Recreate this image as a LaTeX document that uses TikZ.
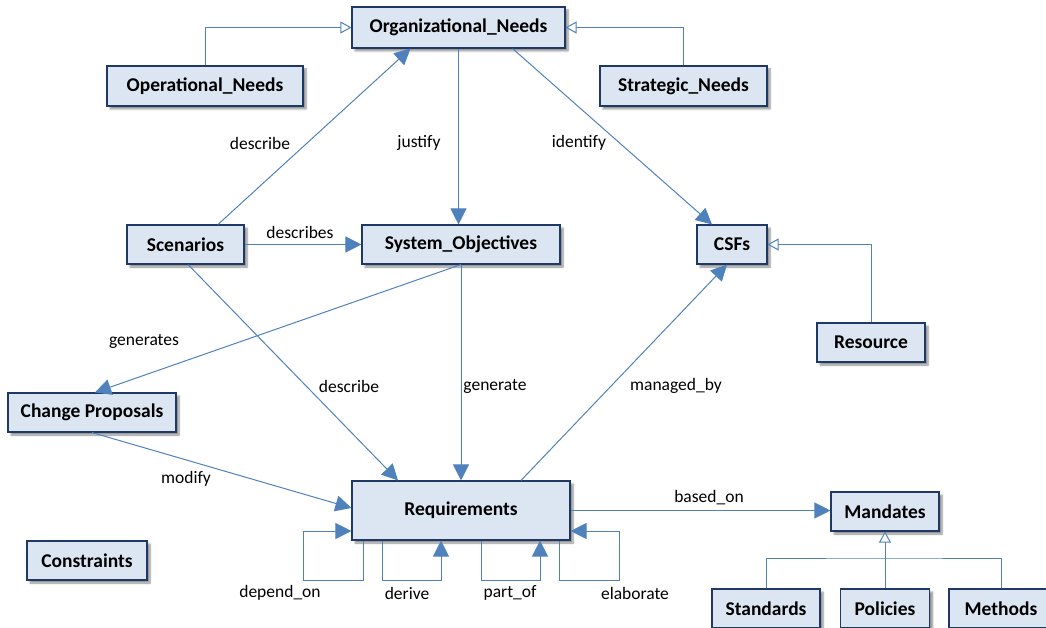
\documentclass[tikz,border=0pt]{standalone}
\usepackage{fontspec}
\setmainfont{Carlito}
\usetikzlibrary{arrows.meta,shadows.blur,calc}

\definecolor{boxfill}{HTML}{DCE6F2}
\definecolor{boxline}{HTML}{1F3864}
\definecolor{linkblue}{HTML}{4F81BD}

\begin{document}
\begin{tikzpicture}[x=1pt,y=-1pt,
  box/.style={draw=boxline, fill=boxfill, line width=1.1pt, inner sep=0pt,
    font=\fontsize{19.5}{21}\selectfont\bfseries,
    blur shadow={shadow xshift=3pt, shadow yshift=-3pt, shadow blur steps=6, shadow opacity=45}},
  lbl/.style={font=\fontsize{17.5}{19}\selectfont, inner sep=0pt},
  assoc/.style={draw=linkblue, line width=1pt, -{Triangle[length=16pt,width=16pt]}},
  plainlink/.style={draw=linkblue, line width=1pt},
  gen/.style={draw=linkblue, line width=1pt, -{Triangle[open,length=11pt,width=12pt,fill=white]}}]

\useasboundingbox (0,0) rectangle (1046,628);

% classes
\node[box, minimum width=213pt, minimum height=41pt] (org)    at (458.5,27.5) {Organizational\_Needs};
\node[box, minimum width=196pt, minimum height=40pt] (opn)    at (205,86)     {Operational\_Needs};
\node[box, minimum width=167pt, minimum height=40pt] (strat)  at (683.5,86)   {Strategic\_Needs};
\node[box, minimum width=117pt, minimum height=39pt] (scen)   at (185.5,244.5){Scenarios};
\node[box, minimum width=198pt, minimum height=39pt] (sysobj) at (461,244.5)  {System\_Objectives};
\node[box, minimum width=70pt,  minimum height=39pt] (csf)    at (732,244.5)  {CSFs};
\node[box, minimum width=108pt, minimum height=39pt] (res)    at (871,342.5)  {Resource};
\node[box, minimum width=168pt, minimum height=39pt] (chg)    at (92,412.5)   {Change Proposals};
\node[box, minimum width=218pt, minimum height=59pt] (req)    at (461,510.5)  {Requirements};
\node[box, minimum width=108pt, minimum height=39pt] (mand)   at (885,511.5)  {Mandates};
\node[box, minimum width=120pt, minimum height=39pt] (cons)   at (87,560.5)   {Constraints};
\node[box, minimum width=108pt, minimum height=39pt] (std)    at (766,608.5)  {Standards};
\node[box, minimum width=89pt,  minimum height=39pt] (pol)    at (885,608.5)  {Policies};
\node[box, minimum width=104pt, minimum height=39pt] (meth)   at (1001,608.5) {Methods};

% generalizations
\draw[gen] (opn.north) |- (org.west);
\draw[gen] (strat.north) |- (org.east);
\draw[gen] (res.north) |- (csf.east);
\coordinate (mj) at (885,558);
\draw[plainlink] (std.north) |- (mj) -| (meth.north);
\draw[gen] (pol.north) -- (mand.south);

% associations
\draw[assoc] ([xshift=32.5pt]scen.north) -- ([xshift=-48pt]org.south);
\draw[assoc] (org.south) -- (org.south |- sysobj.north);
\draw[assoc] ([xshift=54pt]org.south) -- ([xshift=-20pt]csf.north);
\draw[assoc] (scen.east) -- (sysobj.west);
\draw[assoc] (sysobj.south) -- (sysobj.south |- req.north);
\draw[assoc] (sysobj.south) -- ([xshift=3pt]chg.north);
\draw[assoc] ([xshift=2.5pt]scen.south) -- ([xshift=-63pt]req.north);
\draw[assoc] ([xshift=60pt]req.north) -- ([xshift=-5pt]csf.south);
\draw[assoc] (chg.south) -- ([yshift=2.5pt]req.west);
\draw[assoc] (req.east) -- (req.east -| mand.west);

% self associations of Requirements
\draw[assoc] ([xshift=-98pt]req.south) -- ++(0,40) -| ([xshift=-48pt,yshift=-20.5pt]req.west) -- ([yshift=-20.5pt]req.west);
\draw[assoc] ([xshift=-79pt]req.south) -- ++(0,40) -| ([xshift=-20pt]req.south);
\draw[assoc] ([xshift=20pt]req.south) -- ++(0,40) -| ([xshift=79pt]req.south);
\draw[assoc] ([xshift=98pt]req.south) -- ++(0,40) -| ([xshift=49pt,yshift=-20.5pt]req.east) -- ([yshift=-20.5pt]req.east);

% role labels
\node[lbl] (l1)  at (260,143) {describe};
\node[lbl] (l2)  at (419,143) {justify};
\node[lbl] (l3)  at (579,143) {identify};
\node[lbl] (l4)  at (300,232) {describes};
\node[lbl] (l5)  at (144,341) {generates};
\node[lbl] (l6)  at (349,386) {describe};
\node[lbl] (l7)  at (495,386) {generate};
\node[lbl] (l8)  at (676,386) {managed\_by};
\node[lbl] (l9)  at (186,479) {modify};
\node[lbl] (l10) at (709,498) {based\_on};
\node[lbl] (l11) at (280,593) {depend\_on};
\node[lbl] (l12) at (407,593) {derive};
\node[lbl] (l13) at (510,593) {part\_of};
\node[lbl] (l14) at (635,593) {elaborate};
\end{tikzpicture}
\end{document}
